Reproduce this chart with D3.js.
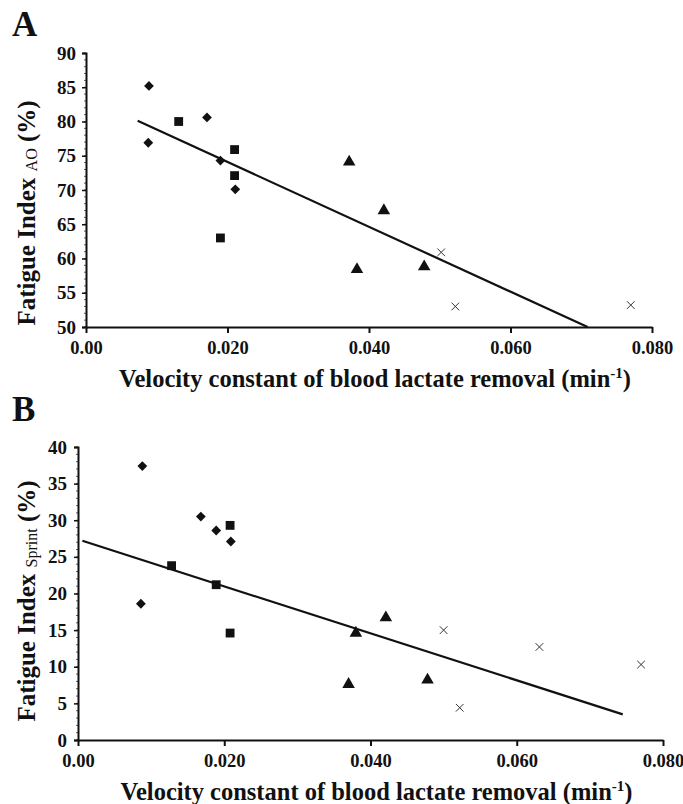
<!DOCTYPE html>
<html><head><meta charset="utf-8">
<script src="https://cdn.jsdelivr.net/npm/d3@7"></script>
<style>
body{margin:0;background:#fff;}
svg text{font-family:"Liberation Serif","Times New Roman",serif;font-weight:bold;fill:#111;}
</style></head>
<body><svg id="chart" width="683" height="804"></svg>
<script>
// Panel A data
const aDiamondX = [0.0089, 0.0088, 0.0171, 0.0190, 0.0211];
const aDiamondY = [85.2, 76.9, 80.6, 74.3, 70.1];
const aSquareX = [0.0131, 0.0210, 0.0210, 0.0190];
const aSquareY = [80.0, 75.9, 72.1, 63.0];
const aTriangleX = [0.0372, 0.0421, 0.0383, 0.0478];
const aTriangleY = [74.1, 67.0, 58.4, 58.8];
const aCrossX = [0.0502, 0.0522, 0.0770];
const aCrossY = [60.9, 53.0, 53.2];
const aLineX = [0.0073, 0.0709];
const aLineY = [80.1, 50.0];
const aYTicks = [50, 55, 60, 65, 70, 75, 80, 85, 90];

// Panel B data
const bDiamondX = [0.0088, 0.0168, 0.0189, 0.0209, 0.0086];
const bDiamondY = [37.4, 30.5, 28.6, 27.1, 18.6];
const bSquareX = [0.0208, 0.0128, 0.0189, 0.0208];
const bSquareY = [29.3, 23.8, 21.2, 14.6];
const bTriangleX = [0.0380, 0.0421, 0.0370, 0.0478];
const bTriangleY = [14.6, 16.7, 7.6, 8.2];
const bCrossX = [0.0500, 0.0631, 0.0770, 0.0522];
const bCrossY = [15.0, 12.7, 10.3, 4.4];
const bLineX = [0.0006, 0.0745];
const bLineY = [27.2, 3.5];
const bYTicks = [0, 5, 10, 15, 20, 25, 30, 35, 40];

const xTicks = [0, 0.02, 0.04, 0.06, 0.08];
const xTickLabels = ["0.00", "0.020", "0.040", "0.060", "0.080"];
const xTitle = "Velocity constant of blood lactate removal (min";

const svg = d3.select("#chart");

function panel(cfg) {
  const x = d3.scaleLinear().domain([0, 0.08]).range([cfg.x0, cfg.x1]);
  const y = d3.scaleLinear().domain(cfg.yDomain).range([cfg.y0, cfg.y1]);
  const g = svg.append("g");

  // minor ticks on y
  const minor = d3.range(cfg.yDomain[0], cfg.yDomain[1] + 0.001, 1);
  g.selectAll(".minor").data(minor).join("line")
    .attr("x1", cfg.x0 - 2).attr("x2", cfg.x0)
    .attr("y1", d => y(d)).attr("y2", d => y(d))
    .attr("stroke", "#333").attr("stroke-width", 0.8);

  const yAxis = g.append("g").attr("transform", `translate(${cfg.x0},0)`)
    .call(d3.axisLeft(y).tickValues(cfg.yTicks).tickSize(4).tickPadding(cfg.yPad).tickFormat(d3.format("d")));
  yAxis.select(".domain").attr("stroke", "#111").attr("stroke-width", 2);
  yAxis.selectAll(".tick line").attr("stroke", "#111").attr("stroke-width", 1.5);
  yAxis.selectAll(".tick text").style("font-size", "19px").style("font-family", "Liberation Serif").style("font-weight", "bold").attr("fill", "#111");

  const xAxis = g.append("g").attr("transform", `translate(0,${cfg.y0})`)
    .call(d3.axisBottom(x).tickValues(xTicks).tickSize(6).tickSizeOuter(0).tickPadding(8).tickFormat((d, i) => xTickLabels[i]));
  xAxis.select(".domain").attr("stroke", "#111").attr("stroke-width", 2);
  xAxis.selectAll(".tick line").attr("stroke", "#111").attr("stroke-width", 2);
  xAxis.selectAll(".tick text").style("font-size", "18.5px").style("font-family", "Liberation Serif").style("font-weight", "bold").attr("fill", "#111");

  // regression line
  const lineData = cfg.lineX.map((d, i) => [d, cfg.lineY[i]]);
  g.append("path").datum(lineData)
    .attr("d", d3.line().x(d => x(d[0])).y(d => y(d[1])))
    .attr("stroke", "#111").attr("stroke-width", 2.2).attr("fill", "none");

  const zip = (xs, ys) => xs.map((d, i) => [d, ys[i]]);
  // diamonds
  g.selectAll(".dia").data(zip(cfg.dX, cfg.dY)).join("path")
    .attr("d", d3.symbol().type(d3.symbolSquare).size(48))
    .attr("transform", d => `translate(${x(d[0])},${y(d[1])}) rotate(45)`)
    .attr("fill", "#111");
  // squares
  g.selectAll(".sq").data(zip(cfg.sX, cfg.sY)).join("path")
    .attr("d", d3.symbol().type(d3.symbolSquare).size(78))
    .attr("transform", d => `translate(${x(d[0])},${y(d[1])})`)
    .attr("fill", "#111");
  // triangles
  g.selectAll(".tri").data(zip(cfg.tX, cfg.tY)).join("path")
    .attr("d", d3.symbol().type(d3.symbolTriangle).size(68))
    .attr("transform", d => `translate(${x(d[0])},${y(d[1])})`)
    .attr("fill", "#111");
  // crosses
  g.selectAll(".cr").data(zip(cfg.cX, cfg.cY)).join("path")
    .attr("d", d3.symbol().type(d3.symbolX).size(40))
    .attr("transform", d => `translate(${x(d[0])},${y(d[1])})`)
    .attr("fill", "none").attr("stroke", "#333").attr("stroke-width", 1);

  // x title
  const xt = g.append("text").attr("x", (cfg.x0 + cfg.x1) / 2 + 6).attr("y", cfg.xTitleY)
    .attr("text-anchor", "middle").style("font-size", "24.5px");
  xt.append("tspan").text(xTitle);
  xt.append("tspan").text("-1").style("font-size", "15px").attr("dy", -9);
  xt.append("tspan").text(")").attr("dy", 9);

  // y title
  const yt = g.append("text").attr("transform", `translate(${cfg.yTitleX},${cfg.yTitleY}) rotate(-90)`)
    .attr("text-anchor", "middle").style("font-size", "25px");
  yt.append("tspan").text("Fatigue Index ");
  yt.append("tspan").text(cfg.sub).style("font-size", "16px").style("font-weight", "normal").attr("dy", 2);
  yt.append("tspan").text(" (%)").attr("dy", -2);

  // panel letter
  g.append("text").attr("x", cfg.letterX).attr("y", cfg.letterY).text(cfg.letter).style("font-size", "35px");
}

panel({
  x0: 86, x1: 652, y0: 327, y1: 53, yDomain: [50, 90], yTicks: aYTicks, yPad: 6,
  dX: aDiamondX, dY: aDiamondY, sX: aSquareX, sY: aSquareY, tX: aTriangleX, tY: aTriangleY,
  cX: aCrossX, cY: aCrossY, lineX: aLineX, lineY: aLineY,
  xTitleY: 387, yTitleX: 35, yTitleY: 213, sub: "AO", letter: "A", letterX: 12, letterY: 36
});
panel({
  x0: 78, x1: 663, y0: 740, y1: 447, yDomain: [0, 40], yTicks: bYTicks, yPad: 7,
  dX: bDiamondX, dY: bDiamondY, sX: bSquareX, sY: bSquareY, tX: bTriangleX, tY: bTriangleY,
  cX: bCrossX, cY: bCrossY, lineX: bLineX, lineY: bLineY,
  xTitleY: 800, yTitleX: 35, yTitleY: 601, sub: "Sprint", letter: "B", letterX: 12, letterY: 421
});
</script></body></html>
